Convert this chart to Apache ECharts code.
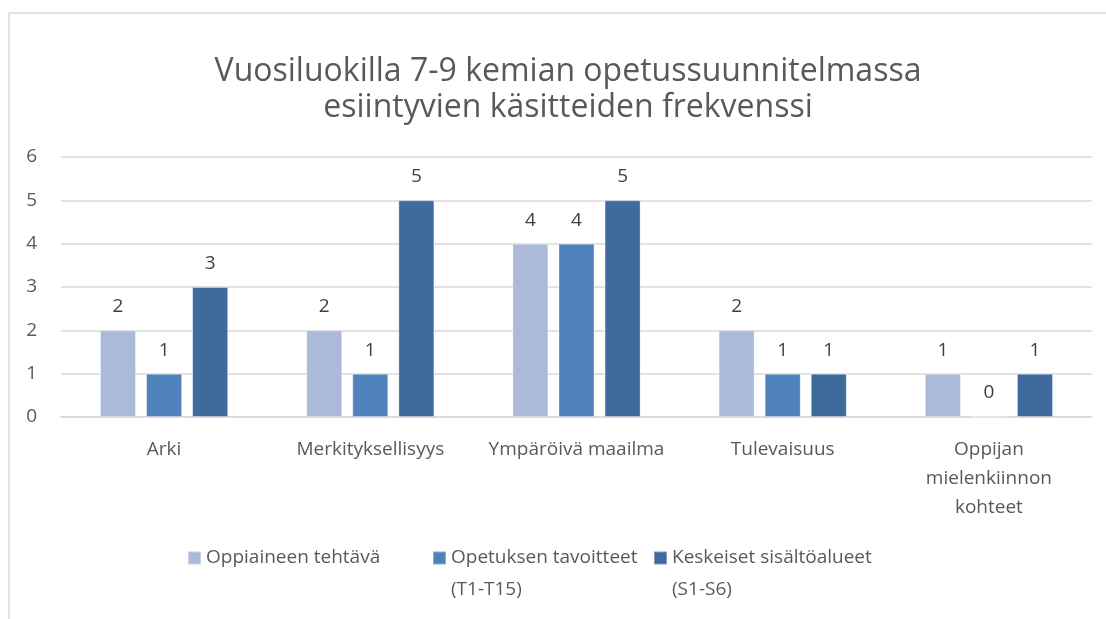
<!DOCTYPE html>
<html>
<head>
<meta charset="utf-8">
<script src="https://cdn.jsdelivr.net/npm/echarts@6/dist/echarts.min.js"></script>
<style>
  html, body { margin: 0; padding: 0; background: #fff; }
  #main { width: 1106px; height: 619px; }
</style>
</head>
<body>
<div id="main"></div>
<script>
// kategoriat (x-akseli)
const categories = ['Arki', 'Merkityksellisyys', 'Ympäröivä maailma', 'Tulevaisuus', 'Oppijan\nmielenkiinnon\nkohteet']
const yTicks = [0, 1, 2, 3, 4, 5, 6]

const seriesNames = ['Oppiaineen tehtävä', 'Opetuksen tavoitteet\n(T1-T15)', 'Keskeiset sisältöalueet\n(S1-S6)']
const tehtava = [2, 2, 4, 2, 1]
const tavoitteet = [1, 1, 4, 1, 0]
const sisaltoalueet = [3, 5, 5, 1, 1]
const colors = ['#abbad8', '#4f81bd', '#3f6a9c']

const font = '"Open Sans", "Noto Sans", sans-serif'
const myChart = echarts.init(document.getElementById('main'))

const values = [tehtava, tavoitteet, sisaltoalueet]
const legendLeft = [187, 432, 653]
const lh = 32 // selitteen rivikorkeus
const iconY = 558

const option = {
  animation: false,
  backgroundColor: '#fff',
  title: {
    text: 'Vuosiluokilla 7-9 kemian opetussuunnitelmassa\nesiintyvien käsitteiden frekvenssi',
    left: 563,
    top: 49,
    textAlign: 'center',
    textStyle: { fontFamily: font, fontSize: 32, fontWeight: 'normal', color: '#595959', lineHeight: 36 }
  },
  // kolme erillistä selitettä; tyhjä ensimmäinen rivi nostaa tekstin ikonin tasalle
  legend: seriesNames.map((n, i) => {
    const multi = n.indexOf('\n') >= 0
    return {
      left: legendLeft[i],
      top: multi ? iconY - 1.5 * lh : iconY - lh / 2,
      padding: 0,
      itemWidth: 13,
      itemHeight: 13,
      itemGap: 0,
      icon: 'rect',
      data: [n],
      formatter: name => (multi ? '\n' + name : name),
      textStyle: { fontFamily: font, fontSize: 19, color: '#595959', lineHeight: lh }
    }
  }),
  grid: { left: 61, right: 14, top: 157, bottom: 202, containLabel: false },
  xAxis: {
    type: 'category',
    data: categories,
    axisLine: { lineStyle: { color: '#d9d9d9', width: 1.5 } },
    axisTick: { show: false },
    axisLabel: { interval: 0, fontFamily: font, fontSize: 19, color: '#595959', margin: 18, lineHeight: 29 }
  },
  yAxis: {
    type: 'value',
    min: yTicks[0],
    max: yTicks[yTicks.length - 1],
    interval: 1,
    axisLine: { show: false },
    axisTick: { show: false },
    axisLabel: { fontFamily: font, fontSize: 19, color: '#595959', margin: 24 },
    splitLine: { lineStyle: { color: '#d9d9d9', width: 1.5 } }
  },
  series: seriesNames.map((n, i) => ({
    name: n,
    type: 'bar',
    data: values[i],
    barWidth: 36,
    barGap: '28%',
    itemStyle: { color: colors[i], borderColor: 'rgba(255,255,255,0.35)', borderWidth: 1 },
    label: {
      show: true,
      position: 'top',
      distance: 14,
      fontFamily: font,
      fontSize: 19,
      color: '#404040'
    }
  })),
  graphic: [
    { type: 'line', shape: { x1: 9, y1: 13, x2: 1106, y2: 13 }, style: { stroke: '#d9d9d9', lineWidth: 1.5 } },
    { type: 'line', shape: { x1: 9, y1: 13, x2: 9, y2: 619 }, style: { stroke: '#d9d9d9', lineWidth: 1.5 } }
  ]
}

myChart.setOption(option)
</script>
</body>
</html>
